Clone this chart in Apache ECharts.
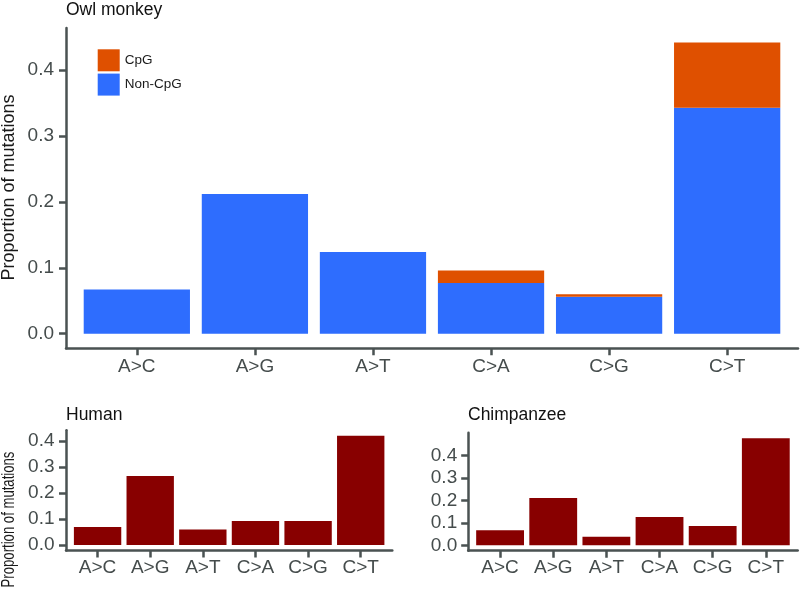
<!DOCTYPE html>
<html>
<head>
<meta charset="utf-8">
<script src="https://cdn.jsdelivr.net/npm/echarts@6/dist/echarts.min.js"></script>
<style>html,body{margin:0;padding:0;background:#fff}#c{width:800px;height:592px}</style>
</head>
<body>
<div id="c"></div>
<script>
const categories = ['A>C', 'A>G', 'A>T', 'C>A', 'C>G', 'C>T'];
const owlNonCpG = [0.067, 0.212, 0.124, 0.077, 0.056, 0.343];
const owlCpG = [0, 0, 0, 0.019, 0.004, 0.099];
const human = [0.069, 0.265, 0.060, 0.092, 0.092, 0.420];
const chimp = [0.067, 0.210, 0.038, 0.126, 0.086, 0.476];
const yTicks = [0, 0.1, 0.2, 0.3, 0.4];
const titles = ['Owl monkey', 'Human', 'Chimpanzee'];
const yLabel = 'Proportion of mutations';

const FONT = 'Liberation Sans, Arial, Helvetica, sans-serif';
const LINE = '#4a5252';
const TXT = '#454c4c';
const BLUE = '#2e6dfe';
const ORANGE = '#df5000';
const RED = '#880000';

const idx = categories.map((c, i) => i);
// value first, category index second (encoded explicitly below)
const pairs = vals => vals.map((v, i) => [v, i]);
const maxOf = arr => Math.max.apply(null, arr);

function xAxisFor(gi, margin) {
  return {
    type: 'value', gridIndex: gi, min: -0.6, max: categories.length - 1 + 0.6,
    splitLine: {show: false},
    axisLine: {show: true, onZero: false, lineStyle: {color: LINE, width: 2.5}},
    axisTick: {show: true, length: 7, customValues: idx, lineStyle: {color: LINE, width: 2.5}},
    axisLabel: {customValues: idx, formatter: v => categories[Math.round(v)], fontFamily: FONT, fontSize: 19, color: TXT, margin: margin}
  };
}
function yAxisFor(gi, top, margin) {
  return {
    type: 'value', gridIndex: gi, min: -0.05 * top, max: 1.05 * top,
    splitLine: {show: false},
    axisLine: {show: true, onZero: false, lineStyle: {color: LINE, width: 2.5}},
    axisTick: {show: true, length: 7, customValues: yTicks, lineStyle: {color: LINE, width: 2.5}},
    axisLabel: {customValues: yTicks, formatter: v => v.toFixed(1), fontFamily: FONT, fontSize: 19, color: TXT, margin: margin}
  };
}

const owlTop = maxOf(owlNonCpG.map((v, i) => v + owlCpG[i]));
const enc = {x: 1, y: 0};
const titleStyle = {fontFamily: FONT, fontSize: 17.5, fontWeight: 'normal', color: '#111'};

const option = {
  animation: false,
  backgroundColor: '#ffffff',
  title: [
    {text: titles[0], left: 66, top: 1, padding: 0, textStyle: titleStyle},
    {text: titles[1], left: 66, top: 406, padding: 0, textStyle: titleStyle},
    {text: titles[2], left: 468, top: 406, padding: 0, textStyle: titleStyle}
  ],
  legend: {
    data: ['CpG', 'Non-CpG'], orient: 'vertical', left: 97.7, top: 49.3, padding: 0,
    itemWidth: 22, itemHeight: 22, itemGap: 2.3, icon: 'rect', selectedMode: false,
    textStyle: {fontFamily: FONT, fontSize: 13.5, color: '#1a1a1a'}
  },
  grid: [
    {left: 66, top: 27.9, width: 732, height: 320.4, outerBoundsMode: 'none', containLabel: false},
    {left: 66, top: 430.3, width: 326.3, height: 120.2, outerBoundsMode: 'none', containLabel: false},
    {left: 468.2, top: 432.8, width: 329.5, height: 117.9, outerBoundsMode: 'none', containLabel: false}
  ],
  xAxis: [xAxisFor(0, 9), xAxisFor(1, 8), xAxisFor(2, 8)],
  yAxis: [yAxisFor(0, owlTop, 12), yAxisFor(1, maxOf(human), 11.5), yAxisFor(2, maxOf(chimp), 11)],
  graphic: [
    {
      type: 'text', x: 9.5, y: 187.5, rotation: Math.PI / 2,
      style: {text: yLabel, font: '18px ' + FONT, fill: '#1a1a1a', textAlign: 'center', textVerticalAlign: 'middle'}
    },
    {
      type: 'text', x: 9.5, y: 519.5, rotation: Math.PI / 2, scaleX: 0.73,
      style: {text: yLabel, font: '18px ' + FONT, fill: '#1a1a1a', textAlign: 'center', textVerticalAlign: 'middle'}
    }
  ],
  series: [
    {name: 'Non-CpG', type: 'bar', stack: 'owl', xAxisIndex: 0, yAxisIndex: 0, barWidth: '90%', encode: enc, data: pairs(owlNonCpG), itemStyle: {color: BLUE}},
    {name: 'CpG', type: 'bar', stack: 'owl', xAxisIndex: 0, yAxisIndex: 0, barWidth: '90%', encode: enc, data: pairs(owlCpG), itemStyle: {color: ORANGE}},
    {name: 'Human', type: 'bar', xAxisIndex: 1, yAxisIndex: 1, barWidth: '90%', encode: enc, data: pairs(human), itemStyle: {color: RED}},
    {name: 'Chimpanzee', type: 'bar', xAxisIndex: 2, yAxisIndex: 2, barWidth: '90%', encode: enc, data: pairs(chimp), itemStyle: {color: RED}}
  ]
};

const chart = echarts.init(document.getElementById('c'), null, {renderer: 'canvas'});
chart.setOption(option);
</script>
</body>
</html>
